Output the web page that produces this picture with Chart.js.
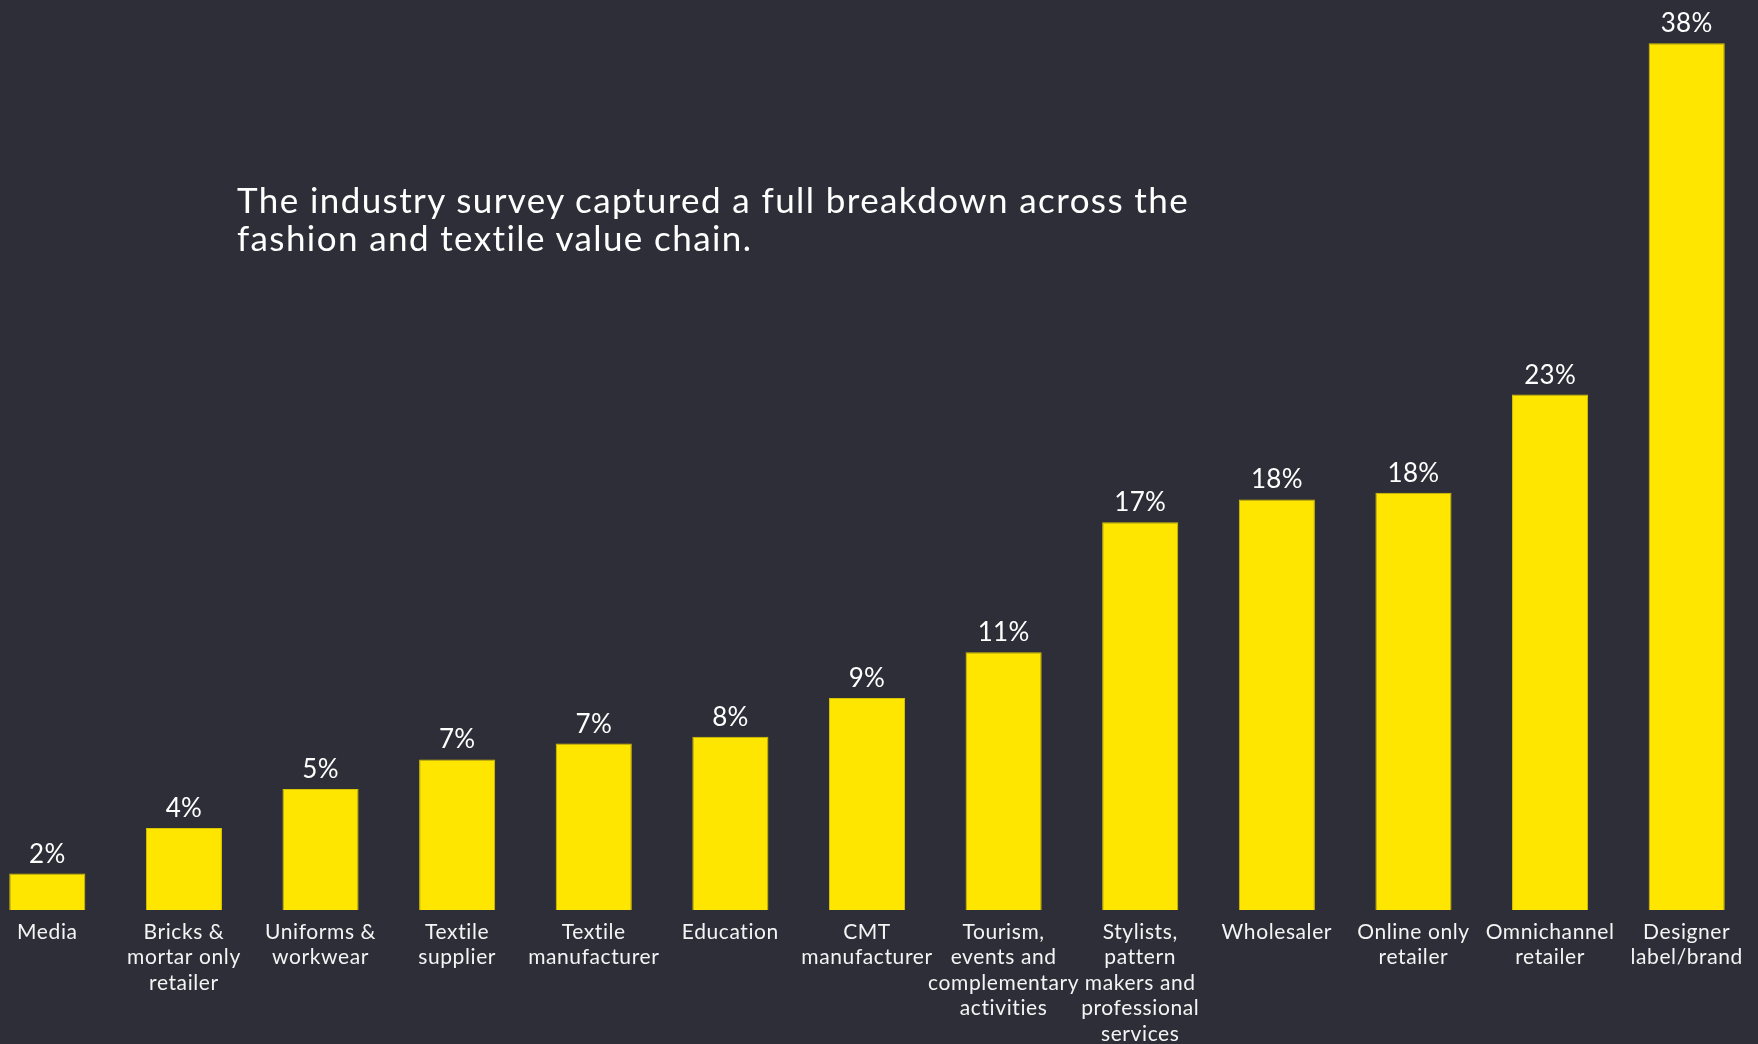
<!DOCTYPE html>
<html>
<head>
<meta charset="utf-8">
<script src="https://cdn.jsdelivr.net/npm/chart.js@4.4.1/dist/chart.umd.min.js"></script>
<style>
  html, body { margin:0; padding:0; background:#2e2e38; width:1758px; height:1044px; overflow:hidden; }
  #wrap { position:absolute; left:-21px; top:0; width:1776px; height:1044px; }
  #title { position:absolute; left:237px; top:181px; color:#ffffff; font-family:Lato, "Open Sans", sans-serif; font-size:35px; line-height:37.5px; font-weight:400; letter-spacing:1.4px; white-space:nowrap; }
</style>
</head>
<body>
<div id="wrap"><canvas id="c" width="1776" height="1044"></canvas></div>
<div id="title">The industry survey captured a full breakdown across the<br>fashion and textile value chain.</div>
<script>
const categories = [
  "Media",
  ["Bricks &", "mortar only", "retailer"],
  ["Uniforms &", "workwear"],
  ["Textile", "supplier"],
  ["Textile", "manufacturer"],
  "Education",
  ["CMT", "manufacturer"],
  ["Tourism,", "events and", "complementary", "activities"],
  ["Stylists,", "pattern", "makers and", "professional", "services"],
  "Wholesaler",
  ["Online only", "retailer"],
  ["Omnichannel", "retailer"],
  ["Designer", "label/brand"]
];
const shareValues = [1.6, 3.6, 5.3, 6.6, 7.3, 7.6, 9.3, 11.3, 17.0, 18.0, 18.3, 22.6, 38.0];
const shareLabels = ["2%", "4%", "5%", "7%", "7%", "8%", "9%", "11%", "17%", "18%", "18%", "23%", "38%"];

const spacingPlugin = {
  id: 'letterSpacing',
  beforeDraw(chart) { chart.ctx.letterSpacing = '0.6px'; }
};

const valueLabelPlugin = {
  id: 'valueLabels',
  afterDatasetsDraw(chart) {
    const ctx = chart.ctx;
    const meta = chart.getDatasetMeta(0);
    ctx.save();
    ctx.letterSpacing = '0.3px';
    ctx.font = '400 26px Lato, "Open Sans", sans-serif';
    ctx.fillStyle = '#ffffff';
    ctx.textAlign = 'center';
    ctx.textBaseline = 'alphabetic';
    meta.data.forEach((bar, i) => {
      ctx.fillText(shareLabels[i], bar.x, bar.y - 11);
    });
    ctx.restore();
  }
};

function draw() {
  new Chart(document.getElementById('c'), {
    type: 'bar',
    data: {
      labels: categories,
      datasets: [{
        data: shareValues,
        backgroundColor: '#ffe600',
        borderColor: '#d9c400',
        borderWidth: 1,
        categoryPercentage: 1.0,
        barPercentage: 0.557
      }]
    },
    options: {
      responsive: false,
      animation: false,
      layout: { padding: 0 },
      plugins: { legend: { display: false }, title: { display: false }, tooltip: { enabled: false } },
      scales: {
        x: {
          grid: { display: false, drawTicks: false, drawOnChartArea: false },
          border: { display: false },
          ticks: {
            color: '#f4f4f4',
            font: { family: 'Lato, "Open Sans", sans-serif', size: 21, lineHeight: 1.22 },
            padding: 9,
            autoSkip: false,
            maxRotation: 0,
            minRotation: 0
          },
          afterFit(scale) { scale.height = 134; }
        },
        y: {
          display: false,
          min: 0,
          max: 39.9
        }
      }
    },
    plugins: [spacingPlugin, valueLabelPlugin]
  });
}
if (document.fonts && document.fonts.load) {
  Promise.all([document.fonts.load('21px Lato'), document.fonts.load('26px Lato')]).then(draw, draw);
} else { draw(); }
</script>
</body>
</html>
